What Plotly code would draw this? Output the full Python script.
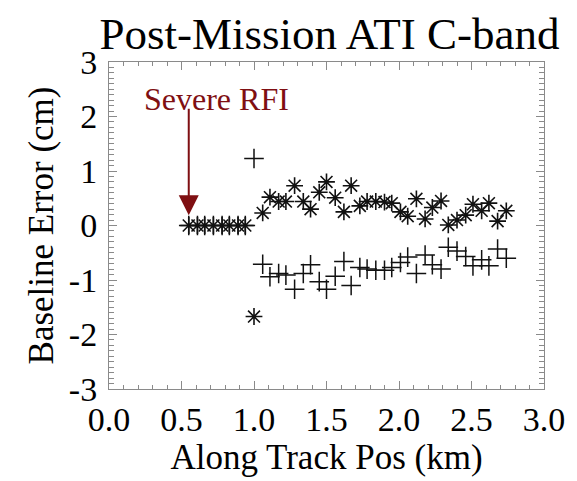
import plotly.graph_objects as go

# Along-track positions (km)
along_track = [0.55, 0.61, 0.66, 0.72, 0.78, 0.83, 0.89, 0.94,
               1.00, 1.06, 1.11, 1.17, 1.22, 1.28, 1.34, 1.39, 1.45, 1.50,
               1.56, 1.62, 1.67, 1.73, 1.78, 1.84, 1.90, 1.95, 2.01, 2.06,
               2.12, 2.18, 2.23, 2.29, 2.34, 2.40, 2.46, 2.51, 2.57, 2.62,
               2.68, 2.74]

# Baseline error series (cm)
err_asterisk = [0, 0, 0, 0, 0, 0, 0, 0,
                -1.67, 0.23, 0.52, 0.44, 0.44, 0.73, 0.44, 0.30, 0.61, 0.80,
                0.51, 0.25, 0.73, 0.36, 0.44, 0.44, 0.43, 0.41, 0.25, 0.17,
                0.49, 0.12, 0.33, 0.45, 0.01, 0.10, 0.19, 0.39, 0.27, 0.41,
                0.08, 0.27]

err_plus = [0, 0, 0, 0, 0, 0, 0, 0,
            1.23, -0.71, -0.94, -0.88, -0.91, -1.17, -0.88, -0.72, -1.03, -1.17,
            -0.93, -0.66, -1.10, -0.77, -0.80, -0.82, -0.82, -0.77, -0.68, -0.58,
            -0.88, -0.54, -0.72, -0.80, -0.40, -0.47, -0.57, -0.74, -0.63, -0.74,
            -0.43, -0.60]

x_tickvals = [0.0, 0.5, 1.0, 1.5, 2.0, 2.5, 3.0]
x_ticktext = ["0.0", "0.5", "1.0", "1.5", "2.0", "2.5", "3.0"]
y_tickvals = [-3, -2, -1, 0, 1, 2, 3]
y_ticktext = ["-3", "-2", "-1", "0", "1", "2", "3"]

FONT = "Liberation Serif"
DARKRED = "#7f0f12"
FRAME = "#8a8a8a"
INK = "#111111"

fig = go.Figure()
fig.add_trace(go.Scatter(
    x=along_track, y=err_plus, mode="markers",
    marker=dict(symbol="cross-thin-open", size=14, color=INK,
                line=dict(color=INK, width=1.5)),
    showlegend=False))
fig.add_trace(go.Scatter(
    x=along_track, y=err_asterisk, mode="markers",
    marker=dict(symbol="asterisk-open", size=14, color=INK,
                line=dict(color=INK, width=1.6)),
    showlegend=False))

axis_common = dict(
    showgrid=False, zeroline=False, showline=True, linecolor=FRAME, linewidth=1,
    mirror="ticks", ticks="inside", ticklen=8, tickwidth=1, tickcolor=FRAME,
    tickfont=dict(family=FONT, size=34, color="black"),
)

fig.update_xaxes(
    range=[0, 3], tickmode="array", tickvals=x_tickvals, ticktext=x_ticktext,
    minor=dict(dtick=0.1, ticks="inside", ticklen=4, tickcolor=FRAME, tickwidth=1),
    title=dict(text="Along Track Pos (km)", font=dict(family=FONT, size=35, color="black"),
               standoff=4),
    **axis_common)
fig.update_yaxes(
    range=[-3, 3], tickmode="array", tickvals=y_tickvals, ticktext=y_ticktext,
    minor=dict(dtick=0.1, ticks="inside", ticklen=5, tickcolor=FRAME, tickwidth=1),
    ticklabelstandoff=4,
    title=dict(text="Baseline Error (cm)", font=dict(family=FONT, size=35, color="black"),
               standoff=4),
    **axis_common)

fig.add_annotation(x=0.55, y=0.19, xref="x", yref="y", ax=0, ay=-108,
                   text="", showarrow=True, arrowhead=2, arrowsize=2,
                   arrowwidth=2, arrowcolor=DARKRED)
fig.add_annotation(x=0.74, y=2.32, xref="x", yref="y", text="Severe RFI",
                   showarrow=False, font=dict(family=FONT, size=32, color=DARKRED))

fig.update_layout(
    width=577, height=481,
    margin=dict(l=109, r=27, t=62, b=92),
    paper_bgcolor="white", plot_bgcolor="white",
    title=dict(text="Post-Mission ATI C-band", x=0.571, xanchor="center",
               y=1 - 33 / 481, yanchor="middle", yref="container",
               font=dict(family=FONT, size=45, color="black")),
)

fig.write_html("out.html")
